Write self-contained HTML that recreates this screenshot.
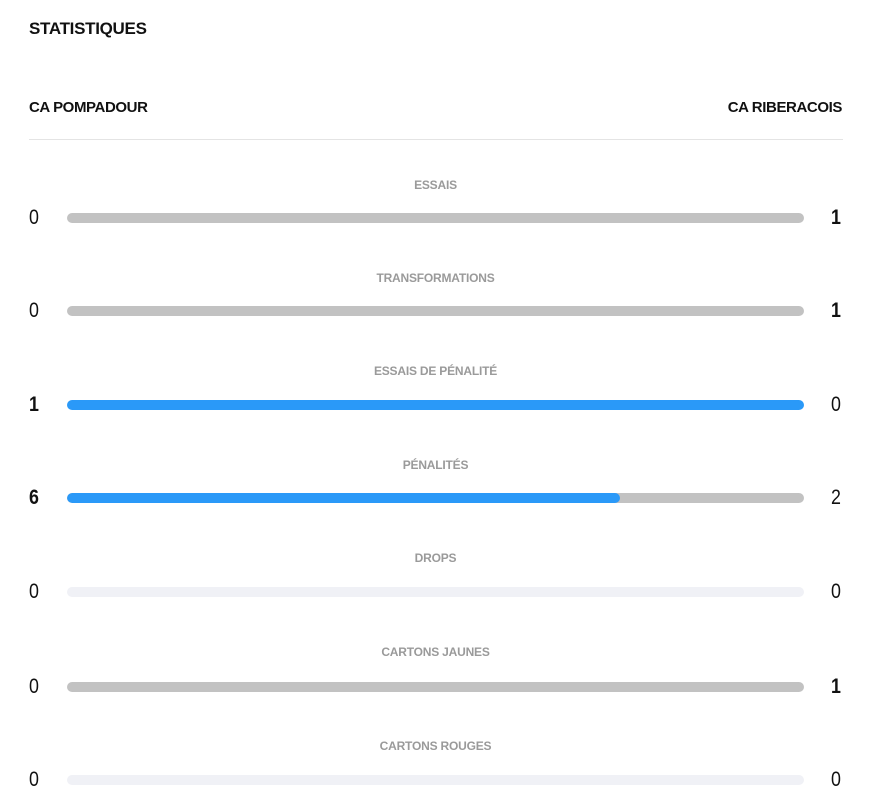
<!DOCTYPE html>
<html><head><meta charset="utf-8"><style>
body{margin:0;width:870px;height:811px;background:#fff;font-family:"Liberation Sans",sans-serif;position:relative;overflow:hidden}
.a{position:absolute;white-space:nowrap}
.t{left:29px;top:19px;font-size:17px;font-weight:bold;color:#111;letter-spacing:-0.3px}
.tm{top:99px;font-size:15px;font-weight:bold;color:#111;letter-spacing:-0.4px}
.hr{left:29px;top:139px;width:814px;height:1px;background:#e4e4e4}
.lab{left:67px;width:737px;text-align:center;font-size:12px;font-weight:bold;color:#9a9a9a;letter-spacing:-0.2px}
.bar{left:67px;width:737px;height:10px;border-radius:5px;overflow:hidden}
.n{font-size:21px;color:#111;transform:scaleX(0.85);transform-origin:left top}
.l{left:29px}.r{left:831px}
.b{font-weight:bold}
</style></head><body>
<div class="a t">STATISTIQUES</div>
<div class="a tm" style="left:29px">CA POMPADOUR</div>
<div class="a tm" style="right:28px">CA RIBERACOIS</div>
<div class="a hr"></div>

<div class="a lab" style="top:178px">ESSAIS</div>
<div class="a n l" style="top:206px">0</div>
<div class="a bar" style="top:213px;background:#c2c2c2"></div>
<div class="a n r b" style="top:206px">1</div>

<div class="a lab" style="top:271px">TRANSFORMATIONS</div>
<div class="a n l" style="top:299px">0</div>
<div class="a bar" style="top:306px;background:#c2c2c2"></div>
<div class="a n r b" style="top:299px">1</div>

<div class="a lab" style="top:364px">ESSAIS DE PÉNALITÉ</div>
<div class="a n l b" style="top:393px">1</div>
<div class="a bar" style="top:400px;background:#2a99f8"></div>
<div class="a n r" style="top:393px">0</div>

<div class="a lab" style="top:458px">PÉNALITÉS</div>
<div class="a n l b" style="top:486px">6</div>
<div class="a bar" style="top:493px;background:#c2c2c2"><div style="width:75%;height:100%;background:#2a99f8;border-radius:5px"></div></div>
<div class="a n r" style="top:486px">2</div>

<div class="a lab" style="top:551px">DROPS</div>
<div class="a n l" style="top:580px">0</div>
<div class="a bar" style="top:587px;background:#f0f1f6"></div>
<div class="a n r" style="top:580px">0</div>

<div class="a lab" style="top:645px">CARTONS JAUNES</div>
<div class="a n l" style="top:675px">0</div>
<div class="a bar" style="top:682px;background:#c2c2c2"></div>
<div class="a n r b" style="top:675px">1</div>

<div class="a lab" style="top:739px">CARTONS ROUGES</div>
<div class="a n l" style="top:768px">0</div>
<div class="a bar" style="top:775px;background:#f0f1f6"></div>
<div class="a n r" style="top:768px">0</div>
</body></html>
